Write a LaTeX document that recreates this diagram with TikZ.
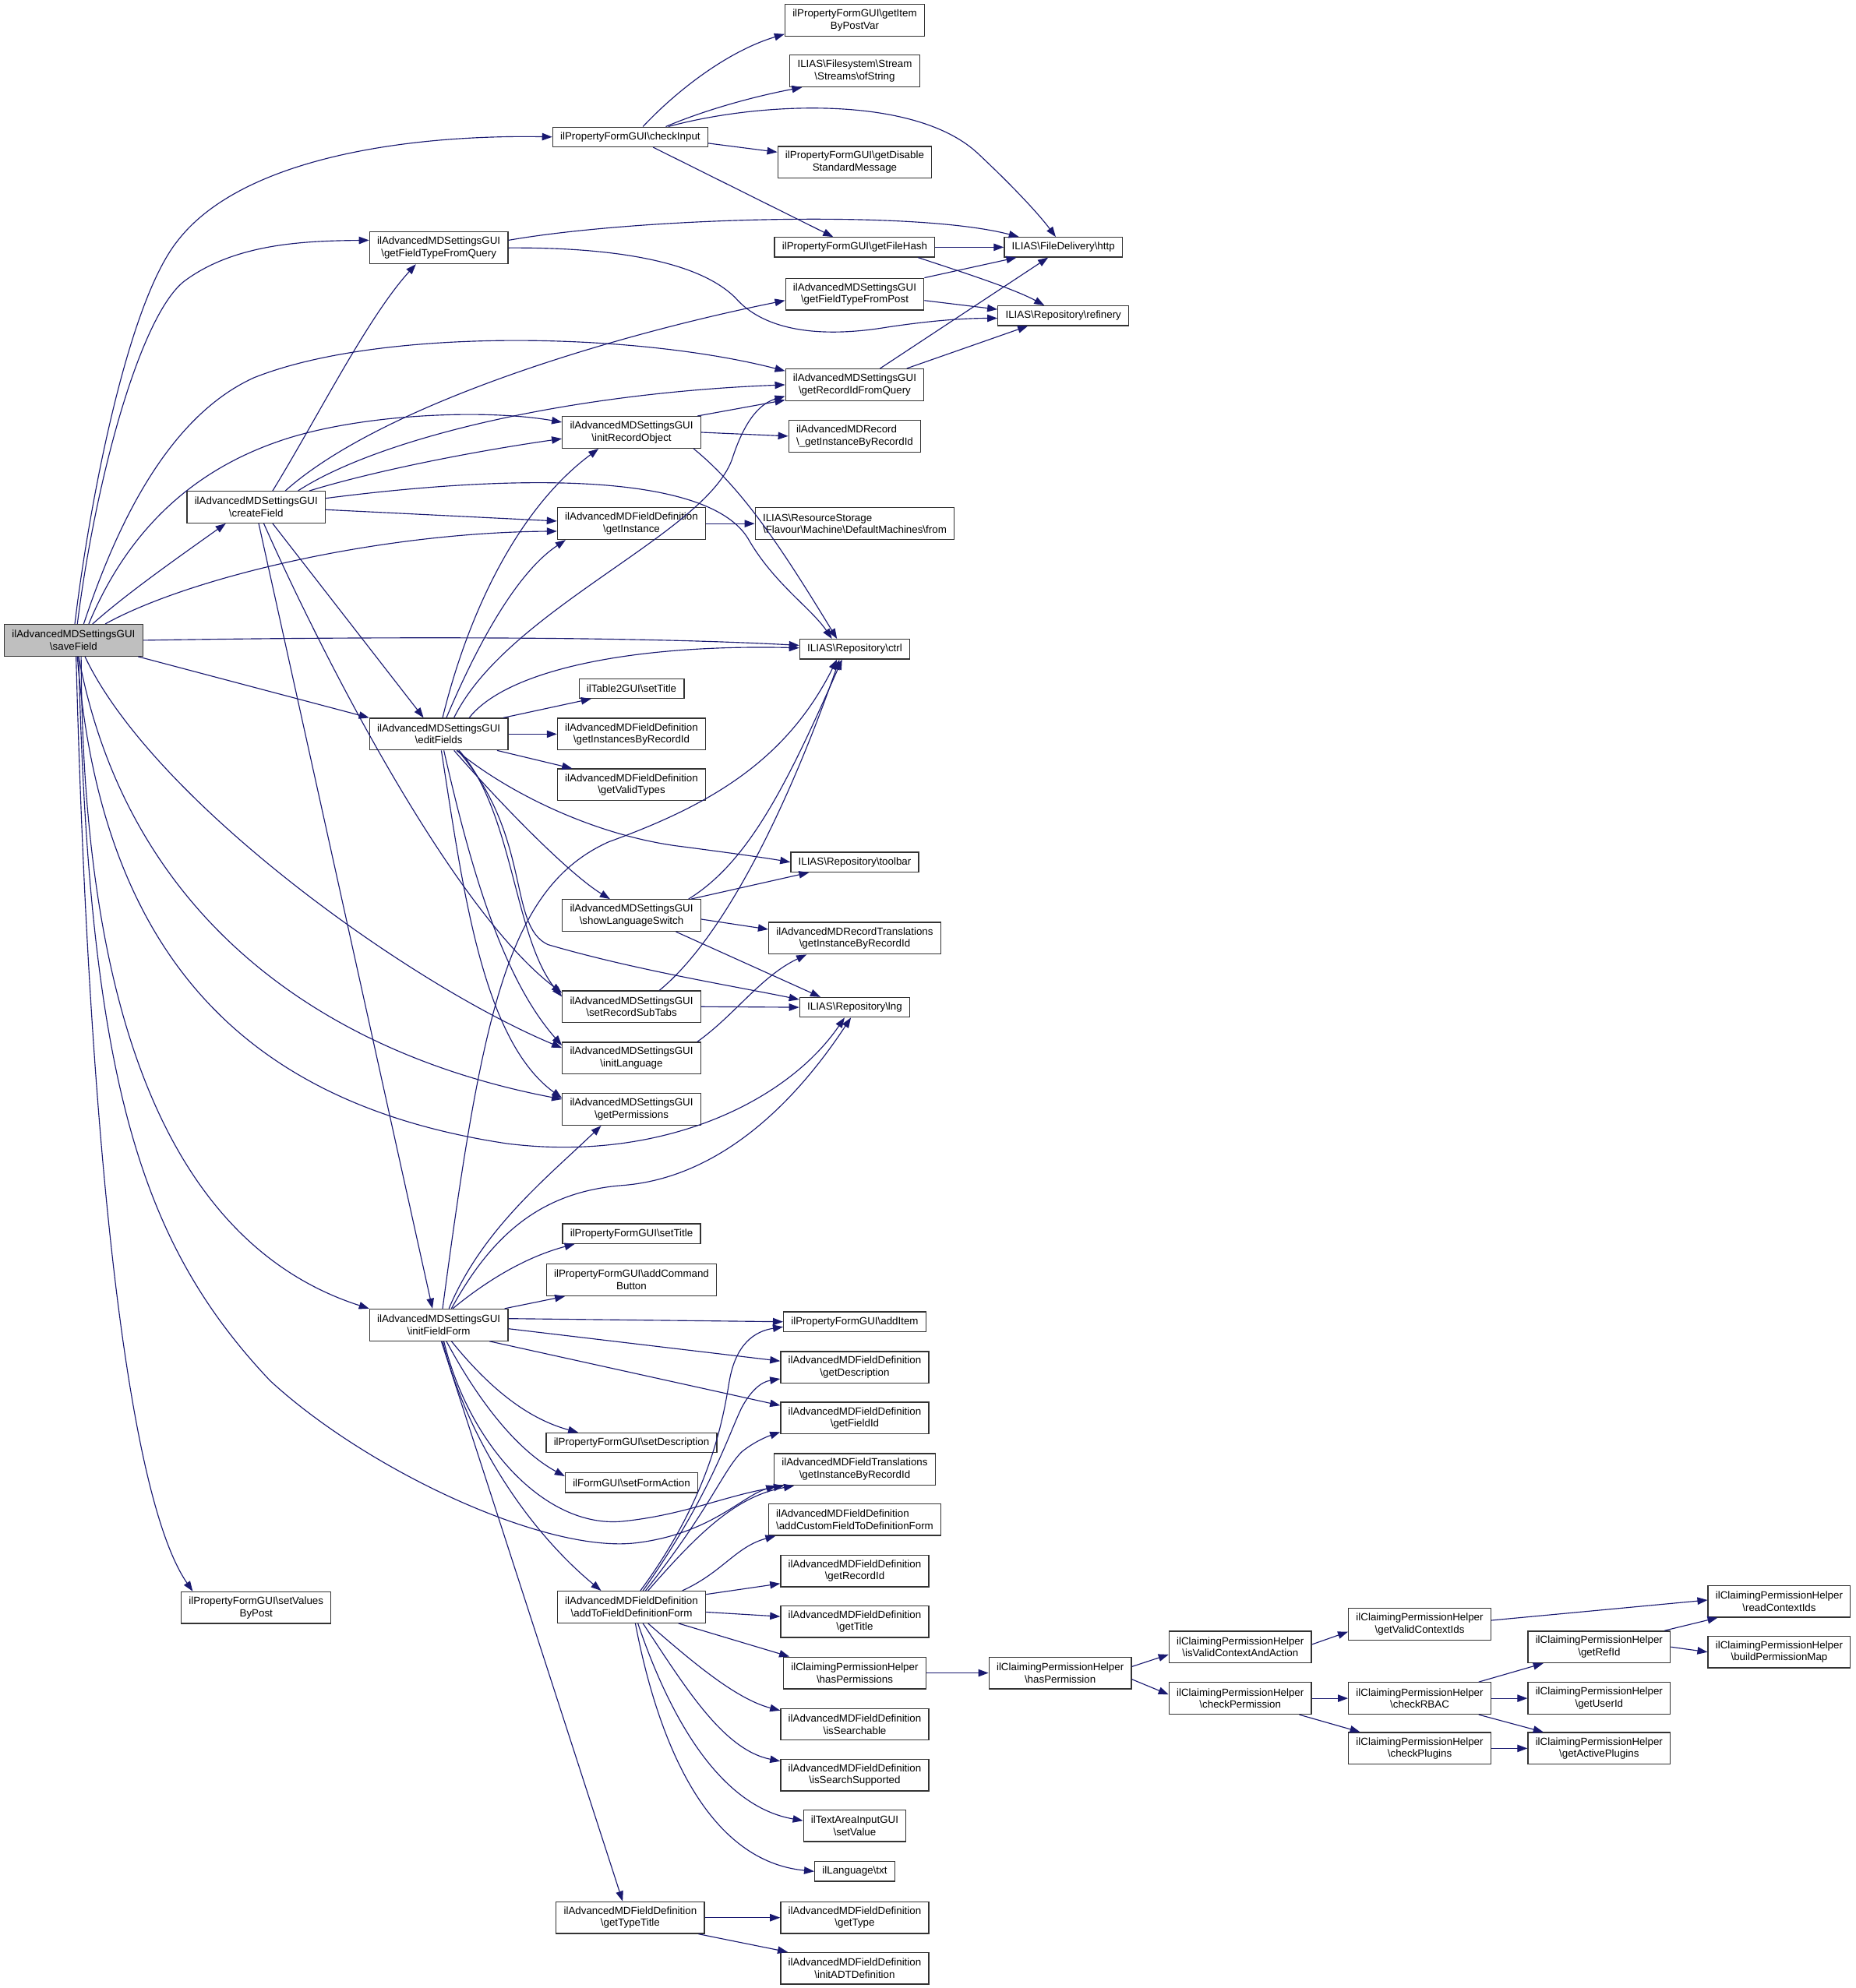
\documentclass[tikz,border=0pt]{standalone}
\usepackage{fontspec}
\newfontfamily\doxfont{Liberation Sans}
\usetikzlibrary{arrows.meta}
\newcommand{\bsx}{\textbackslash}
\definecolor{edgeblue}{HTML}{191970}
\definecolor{boxline}{HTML}{333333}
\begin{document}
\begin{tikzpicture}[x=1pt,y=-1pt,
  fn/.style={draw=boxline, line width=0.8pt, fill=white, font=\doxfont\fontsize{8.2}{9.6}\selectfont,
    align=center, inner xsep=6pt, inner ysep=2pt, minimum height=25pt},
  fnl/.style={fn, align=left},
  fn1/.style={fn, minimum height=15.5pt},
  calls/.style={draw=edgeblue, line width=0.7pt, -{Triangle[length=8pt,width=5.8pt]}}]
\useasboundingbox (0,0) rectangle (1463,1568);
% column 0-2
\node[fn, fill=black!25] (S) at (58,505) {ilAdvancedMDSettingsGUI\\\bsx saveField};
\node[fn] (C) at (202,400) {ilAdvancedMDSettingsGUI\\\bsx createField};
\node[fn] (sVBP) at (202,1268) {ilPropertyFormGUI\bsx setValues\\ByPost};
\node[fn] (gFTQ) at (346,195.5) {ilAdvancedMDSettingsGUI\\\bsx getFieldTypeFromQuery};
\node[fn] (eF) at (346,579) {ilAdvancedMDSettingsGUI\\\bsx editFields};
\node[fn] (iFF) at (346,1045) {ilAdvancedMDSettingsGUI\\\bsx initFieldForm};
% column 3
\node[fn1] (cI) at (497,108) {ilPropertyFormGUI\bsx checkInput};
\node[fn] (iRO) at (498,341) {ilAdvancedMDSettingsGUI\\\bsx initRecordObject};
\node[fn] (gI) at (498,413) {ilAdvancedMDFieldDefinition\\\bsx getInstance};
\node[fn1] (t2) at (498,543) {ilTable2GUI\bsx setTitle};
\node[fn] (gIBR) at (498,579) {ilAdvancedMDFieldDefinition\\\bsx getInstancesByRecordId};
\node[fn] (gVT) at (498,619) {ilAdvancedMDFieldDefinition\\\bsx getValidTypes};
\node[fn] (sLS) at (498,722) {ilAdvancedMDSettingsGUI\\\bsx showLanguageSwitch};
\node[fn] (sRST) at (498,794) {ilAdvancedMDSettingsGUI\\\bsx setRecordSubTabs};
\node[fn] (iL) at (498,834.5) {ilAdvancedMDSettingsGUI\\\bsx initLanguage};
\node[fn] (gP) at (498,875) {ilAdvancedMDSettingsGUI\\\bsx getPermissions};
\node[fn1] (pfST) at (498,973) {ilPropertyFormGUI\bsx setTitle};
\node[fn] (aCB) at (498,1009.5) {ilPropertyFormGUI\bsx addCommand\\Button};
\node[fn1] (sD) at (498,1138) {ilPropertyFormGUI\bsx setDescription};
\node[fn1] (sFA) at (498,1169.5) {ilFormGUI\bsx setFormAction};
\node[fn] (aTFDF) at (498,1267.5) {ilAdvancedMDFieldDefinition\\\bsx addToFieldDefinitionForm};
\node[fn] (gTT) at (497,1512.5) {ilAdvancedMDFieldDefinition\\\bsx getTypeTitle};
% column 4
\node[fn] (gIBPV) at (674,16) {ilPropertyFormGUI\bsx getItem\\ByPostVar};
\node[fn] (oS) at (674,56) {ILIAS\bsx Filesystem\bsx Stream\\\bsx Streams\bsx ofString};
\node[fn] (gDSM) at (674,128) {ilPropertyFormGUI\bsx getDisable\\StandardMessage};
\node[fn1] (gFH) at (674,195) {ilPropertyFormGUI\bsx getFileHash};
\node[fn] (gFTP) at (674,232) {ilAdvancedMDSettingsGUI\\\bsx getFieldTypeFromPost};
\node[fn] (gRIFQ) at (674,303.5) {ilAdvancedMDSettingsGUI\\\bsx getRecordIdFromQuery};
\node[fnl] (rGI) at (674,344) {ilAdvancedMDRecord\\\bsx\_getInstanceByRecordId};
\node[fnl] (DM) at (674,413) {ILIAS\bsx ResourceStorage\\\bsx Flavour\bsx Machine\bsx DefaultMachines\bsx from};
\node[fn1] (ctrl) at (674,512) {ILIAS\bsx Repository\bsx ctrl};
\node[fn1] (toolbar) at (674,680) {ILIAS\bsx Repository\bsx toolbar};
\node[fn] (RT) at (674,740) {ilAdvancedMDRecordTranslations\\\bsx getInstanceByRecordId};
\node[fn1] (lng) at (674,794.5) {ILIAS\bsx Repository\bsx lng};
\node[fn1] (addItem) at (674,1042.5) {ilPropertyFormGUI\bsx addItem};
\node[fn] (gD) at (674,1078.5) {ilAdvancedMDFieldDefinition\\\bsx getDescription};
\node[fn] (gFI) at (674,1118.5) {ilAdvancedMDFieldDefinition\\\bsx getFieldId};
\node[fn] (FT) at (674,1159) {ilAdvancedMDFieldTranslations\\\bsx getInstanceByRecordId};
\node[fnl] (ACF) at (674,1198.5) {ilAdvancedMDFieldDefinition\\\bsx addCustomFieldToDefinitionForm};
\node[fn] (gRI) at (674,1239) {ilAdvancedMDFieldDefinition\\\bsx getRecordId};
\node[fn] (gT) at (674,1279) {ilAdvancedMDFieldDefinition\\\bsx getTitle};
\node[fn] (hPs) at (674,1319.5) {ilClaimingPermissionHelper\\\bsx hasPermissions};
\node[fn] (iS) at (674,1360) {ilAdvancedMDFieldDefinition\\\bsx isSearchable};
\node[fn] (iSS) at (674,1400) {ilAdvancedMDFieldDefinition\\\bsx isSearchSupported};
\node[fn] (sV) at (674,1440) {ilTextAreaInputGUI\\\bsx setValue};
\node[fn1] (txt) at (674,1476) {ilLanguage\bsx txt};
\node[fn] (gTy) at (674,1512.5) {ilAdvancedMDFieldDefinition\\\bsx getType};
\node[fn] (iADT) at (674,1552.5) {ilAdvancedMDFieldDefinition\\\bsx initADTDefinition};
% column 5+
\node[fn1] (http) at (838.5,195) {ILIAS\bsx FileDelivery\bsx http};
\node[fn1] (ref) at (838.5,249) {ILIAS\bsx Repository\bsx refinery};
\node[fn] (hP) at (836,1319.5) {ilClaimingPermissionHelper\\\bsx hasPermission};
\node[fn] (iVCA) at (978,1299) {ilClaimingPermissionHelper\\\bsx isValidContextAndAction};
\node[fn] (cP) at (978,1339.5) {ilClaimingPermissionHelper\\\bsx checkPermission};
\node[fn] (gVCI) at (1119.5,1281) {ilClaimingPermissionHelper\\\bsx getValidContextIds};
\node[fn] (cRBAC) at (1119.5,1339.5) {ilClaimingPermissionHelper\\\bsx checkRBAC};
\node[fn] (cPl) at (1119.5,1379) {ilClaimingPermissionHelper\\\bsx checkPlugins};
\node[fn] (gRI2) at (1261,1299) {ilClaimingPermissionHelper\\\bsx getRefId};
\node[fn] (gUI) at (1261,1339.5) {ilClaimingPermissionHelper\\\bsx getUserId};
\node[fn] (gAP) at (1261,1379) {ilClaimingPermissionHelper\\\bsx getActivePlugins};
\node[fn] (rCI) at (1403,1263) {ilClaimingPermissionHelper\\\bsx readContextIds};
\node[fn] (bPM) at (1403,1303) {ilClaimingPermissionHelper\\\bsx buildPermissionMap};

% ---- edges from saveField
\draw[calls] ([xshift=1pt]S.north) .. controls (70,400) and (100,240) .. (140,190) .. controls (190,125) and (320,106) .. (cI.west);
\draw[calls] ([xshift=3pt]S.north) .. controls (75,380) and (110,250) .. (145,222) .. controls (185,192) and (240,190) .. ([yshift=6pt]gFTQ.west);
\draw[calls] ([xshift=8pt]S.north) .. controls (90,420) and (130,330) .. (200,298) .. controls (300,258) and (500,262) .. ([yshift=-2pt]gRIFQ.north west);
\draw[calls] ([xshift=12pt]S.north) .. controls (100,420) and (150,372) .. (220,348) .. controls (280,327) and (380,322) .. ([yshift=8pt]iRO.west);
\draw[calls] ([xshift=15pt]S.north) .. controls (100,468) and (140,440) .. ([xshift=-24pt]C.south);
\draw[calls] ([xshift=25pt]S.north) .. controls (150,455) and (300,420) .. ([yshift=-6pt]gI.west);
\draw[calls] (S.east) .. controls (300,502) and (500,502) .. ([yshift=3pt]ctrl.west);
\draw[calls] ([xshift=-4pt]S.south east) -- (eF.north west);
\draw[calls] ([xshift=9pt]S.south) .. controls (120,630) and (320,775) .. ([yshift=8pt]iL.west);
\draw[calls] ([xshift=4pt]S.south) .. controls (100,720) and (250,830) .. ([yshift=8pt]gP.west);
\draw[calls] ([xshift=3pt]S.south) .. controls (80,760) and (200,872) .. (400,902) .. controls (520,917) and (620,870) .. ([xshift=-8pt]lng.south);
\draw[calls] ([xshift=2pt]S.south) .. controls (70,900) and (100,1180) .. ([xshift=-50pt]sVBP.north);
\draw[calls] ([xshift=4pt]S.south) .. controls (70,850) and (110,980) .. (213,1089) .. controls (290,1160) and (430,1225) .. (501,1217) .. controls (560,1210) and (585,1180) .. ([xshift=2pt]FT.south west);
\draw[calls] ([xshift=6pt]S.south) .. controls (65,850) and (160,990) .. (iFF.north west);

% ---- createField
\draw[calls] ([xshift=13pt]C.north) .. controls (250,330) and (290,250) .. ([xshift=-18pt]gFTQ.south);
\draw[calls] ([xshift=23pt]C.north) .. controls (300,320) and (480,265) .. ([yshift=-5pt]gFTP.west);
\draw[calls] ([xshift=33pt]C.north) .. controls (300,345) and (450,310) .. (gRIFQ.west);
\draw[calls] ([xshift=42pt]C.north) .. controls (300,370) and (380,355) .. ([yshift=-5pt]iRO.west);
\draw[calls] ([yshift=7pt]C.east) .. controls (420,372) and (560,375) .. (590,425) .. controls (610,460) and (640,480) .. ([xshift=-18pt]ctrl.north);
\draw[calls] ([yshift=-2pt]C.east) -- ([yshift=2pt]gI.west);
\draw[calls] ([xshift=13pt]C.south) -- ([xshift=-12pt]eF.north);
\draw[calls] ([xshift=6pt]C.south) .. controls (260,530) and (360,720) .. ([yshift=-2pt]sRST.north west);
\draw[calls] ([xshift=2pt]C.south) -- ([xshift=-5pt]iFF.north);

% ---- getFieldTypeFromQuery
\draw[calls] ([yshift=6pt]gFTQ.east) .. controls (500,172) and (720,165) .. ([xshift=-35pt]http.north);
\draw[calls] (gFTQ.east) .. controls (480,195) and (550,205) .. (580,235) .. controls (600,258) and (640,268) .. (700,258) .. controls (740,252) and (765,251) .. ([yshift=-2pt]ref.west);

% ---- checkInput
\draw[calls] ([xshift=10pt]cI.north) .. controls (535,70) and (575,40) .. ([yshift=2pt]gIBPV.south west);
\draw[calls] ([xshift=28pt]cI.north) .. controls (560,85) and (600,75) .. ([xshift=10pt]oS.south west);
\draw[calls] ([xshift=30pt]cI.north) .. controls (600,80) and (720,75) .. (770,120) .. controls (800,148) and (820,170) .. ([xshift=-6pt]http.north);
\draw[calls] ([yshift=-5pt]cI.east) -- ([yshift=8pt]gDSM.west);
\draw[calls] ([xshift=18pt]cI.south) -- ([xshift=-17pt]gFH.north);

% ---- file hash / post / query
\draw[calls] (gFH.east) -- (http.west);
\draw[calls] ([xshift=50pt]gFH.south) .. controls (760,215) and (800,228) .. ([xshift=-15pt]ref.north);
\draw[calls] (gFTP.north east) -- ([xshift=10pt]http.south west);
\draw[calls] ([yshift=-5pt]gFTP.east) -- ([yshift=5pt]ref.west);
\draw[calls] ([xshift=20pt]gRIFQ.north) -- ([xshift=-12pt]http.south);
\draw[calls] ([xshift=41pt]gRIFQ.north) -- ([xshift=-28pt]ref.south);

% ---- initRecordObject, getInstance
\draw[calls] ([xshift=-3pt]iRO.north east) -- ([yshift=-12pt]gRIFQ.west);
\draw[calls] (iRO.east) -- (rGI.west);
\draw[calls] ([xshift=-6pt]iRO.south east) .. controls (585,385) and (615,430) .. ([xshift=-14pt]ctrl.north);
\draw[calls] (gI.east) -- (DM.west);

% ---- editFields
\draw[calls] ([xshift=3pt]eF.north) .. controls (370,480) and (410,400) .. ([xshift=-26pt]iRO.south);
\draw[calls] ([xshift=6pt]eF.north) .. controls (380,500) and (410,450) .. ([xshift=-52pt]gI.south);
\draw[calls] ([xshift=12pt]eF.north) .. controls (400,480) and (560,420) .. (578,360) .. controls (588,330) and (600,318) .. ([yshift=-9pt]gRIFQ.west);
\draw[calls] ([xshift=24pt]eF.north) .. controls (400,528) and (500,508) .. ([yshift=1pt]ctrl.west);
\draw[calls] ([xshift=-4pt]eF.north east) -- ([xshift=10pt]t2.south west);
\draw[calls] (eF.east) -- (gIBR.west);
\draw[calls] ([xshift=-9pt]eF.south east) -- ([xshift=12pt]gVT.north west);
\draw[calls] ([xshift=14pt]eF.south) .. controls (400,625) and (470,660) .. (540,668) .. controls (570,672) and (600,676) .. (toolbar.west);
\draw[calls] ([xshift=12pt]eF.south) .. controls (400,640) and (450,690) .. ([xshift=-17pt]sLS.north);
\draw[calls] ([xshift=16pt]eF.south) .. controls (405,640) and (405,740) .. ([yshift=-5pt]sRST.north west);
\draw[calls] ([xshift=15pt]eF.south) .. controls (420,660) and (400,730) .. (432,745) .. controls (500,765) and (580,778) .. ([yshift=-2pt]lng.north west);
\draw[calls] ([xshift=4pt]eF.south) .. controls (370,680) and (395,770) .. ([yshift=-3pt]iL.north west);
\draw[calls] ([xshift=2pt]eF.south) .. controls (365,700) and (380,820) .. ([yshift=-4pt]gP.north west);

% ---- showLanguageSwitch, setRecordSubTabs, initLanguage
\draw[calls] ([xshift=-8pt]sLS.north east) -- ([xshift=-36pt]toolbar.south);
\draw[calls] ([yshift=-3pt]sLS.east) -- ([yshift=7pt]RT.west);
\draw[calls] ([xshift=35pt]sLS.south) -- ([xshift=-27pt]lng.north);
\draw[calls] ([xshift=-10pt]sLS.north east) .. controls (590,680) and (620,620) .. ([xshift=-10pt]ctrl.south);
\draw[calls] (sRST.east) -- (lng.west);
\draw[calls] ([xshift=22pt]sRST.north) .. controls (570,740) and (620,640) .. ([xshift=-12pt]ctrl.south);
\draw[calls] ([xshift=-3pt]iL.north east) .. controls (580,800) and (600,770) .. ([xshift=-38pt]RT.south);

% ---- initFieldForm
\draw[calls] ([xshift=3pt]iFF.north) .. controls (380,800) and (400,700) .. (480,664) .. controls (560,635) and (620,600) .. ([xshift=-14pt]ctrl.south);
\draw[calls] ([xshift=8pt]iFF.north) .. controls (380,970) and (430,930) .. ([xshift=-24pt]gP.south);
\draw[calls] ([xshift=10pt]iFF.north) .. controls (390,970) and (430,940) .. (490,935) .. controls (560,930) and (620,880) .. ([xshift=-3pt]lng.south);
\draw[calls] ([xshift=11pt]iFF.north) .. controls (390,1005) and (420,990) .. ([xshift=10pt]pfST.south west);
\draw[calls] ([xshift=-3pt]iFF.north east) -- ([xshift=15pt]aCB.south west);
\draw[calls] ([yshift=5pt]iFF.east) -- (addItem.west);
\draw[calls] ([yshift=-3pt]iFF.east) -- ([yshift=5pt]gD.west);
\draw[calls] ([xshift=40pt]iFF.south) -- ([yshift=10pt]gFI.west);
\draw[calls] ([xshift=10pt]iFF.south) .. controls (390,1100) and (420,1120) .. ([xshift=-42pt]sD.north);
\draw[calls] ([xshift=6pt]iFF.south) .. controls (380,1110) and (410,1145) .. ([yshift=-3pt]sFA.north west);
\draw[calls] ([xshift=4pt]iFF.south) .. controls (370,1140) and (430,1205) .. (490,1200) .. controls (540,1195) and (570,1180) .. ([xshift=8pt]FT.south west);
\draw[calls] ([xshift=3pt]iFF.south) .. controls (370,1140) and (420,1210) .. ([xshift=-24pt]aTFDF.north);
\draw[calls] ([xshift=2pt]iFF.south) -- ([xshift=-6pt]gTT.north);

% ---- addToFieldDefinitionForm
\draw[calls] ([xshift=7pt]aTFDF.north) .. controls (560,1180) and (570,1120) .. (575,1090) .. controls (580,1060) and (595,1050) .. ([yshift=-4pt]addItem.west);
\draw[calls] ([xshift=9pt]aTFDF.north) .. controls (560,1180) and (575,1130) .. (585,1110) .. controls (592,1097) and (600,1090) .. ([yshift=-9pt]gD.west);
\draw[calls] ([xshift=11pt]aTFDF.north) .. controls (560,1190) and (570,1160) .. (585,1145) .. controls (595,1137) and (605,1133) .. ([yshift=-11pt]gFI.west);
\draw[calls] ([xshift=13pt]aTFDF.north) .. controls (550,1210) and (580,1180) .. ([xshift=16pt]FT.south west);
\draw[calls] ([xshift=40pt]aTFDF.north) .. controls (570,1240) and (580,1220) .. ([xshift=6pt]ACF.south west);
\draw[calls] ([yshift=10pt]aTFDF.east) -- ([yshift=-10pt]gRI.west);
\draw[calls] ([yshift=-4pt]aTFDF.east) -- ([yshift=4pt]gT.west);
\draw[calls] ([xshift=37pt]aTFDF.south) -- ([xshift=5pt]hPs.north west);
\draw[calls] ([xshift=13pt]aTFDF.south) .. controls (545,1310) and (580,1340) .. ([yshift=-2pt]iS.north west);
\draw[calls] ([xshift=9pt]aTFDF.south) .. controls (540,1330) and (570,1380) .. ([yshift=-2pt]iSS.north west);
\draw[calls] ([xshift=5pt]aTFDF.south) .. controls (530,1360) and (570,1425) .. ([yshift=4pt]sV.west);
\draw[calls] ([xshift=3pt]aTFDF.south) .. controls (520,1380) and (560,1468) .. (txt.west);

% ---- getTypeTitle
\draw[calls] (gTT.east) -- (gTy.west);
\draw[calls] ([xshift=-5pt]gTT.south east) -- ([xshift=6pt]iADT.north west);

% ---- permission helper chain
\draw[calls] (hPs.east) -- (hP.west);
\draw[calls] ([yshift=5pt]hP.east) -- ([yshift=-6pt]iVCA.west);
\draw[calls] ([yshift=-5pt]hP.east) -- ([yshift=3pt]cP.west);
\draw[calls] ([yshift=2pt]iVCA.east) -- ([yshift=-6pt]gVCI.west);
\draw[calls] ([yshift=3pt]gVCI.east) -- ([yshift=1pt]rCI.west);
\draw[calls] (cP.east) -- (cRBAC.west);
\draw[calls] ([xshift=-10pt]cP.south east) -- ([xshift=-47pt]cPl.north);
\draw[calls] ([xshift=-10pt]cRBAC.north east) -- ([xshift=-44pt]gRI2.south);
\draw[calls] (cRBAC.east) -- (gUI.west);
\draw[calls] ([xshift=-10pt]cRBAC.south east) -- ([xshift=-44pt]gAP.north);
\draw[calls] (cPl.east) -- (gAP.west);
\draw[calls] ([xshift=-5pt]gRI2.north east) -- ([xshift=8pt]rCI.south west);
\draw[calls] (gRI2.east) -- (bPM.west);
\end{tikzpicture}
\end{document}
